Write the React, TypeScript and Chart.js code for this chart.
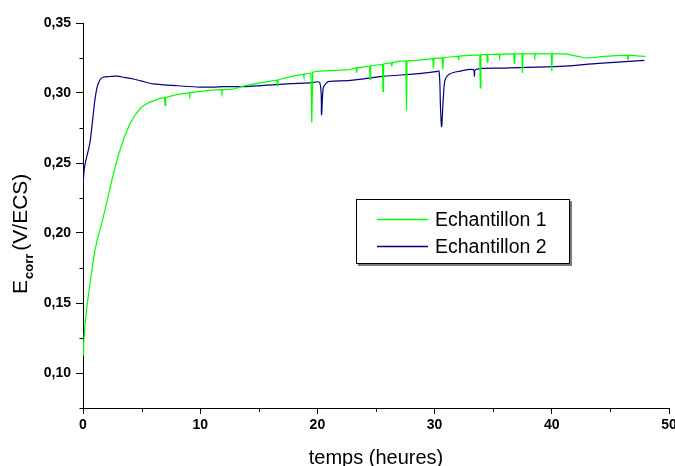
import React, { useEffect, useRef } from "react";
import { Chart, registerables } from "chart.js";

Chart.register(...registerables);

// Echantillon 1 (green)
const e1Time = [
  0, 0.05, 0.15, 0.3, 0.5, 0.75, 1.0, 1.3, 1.6, 2.0, 2.5, 3.0, 3.5, 4.0, 4.5, 5.0, 5.7, 6.5,
  6.95, 7.0, 7.05, 8.0, 9.05, 9.1, 9.15, 10, 11, 11.8, 11.85, 11.9, 12.8, 13.5, 14.2, 15, 16,
  16.55, 16.6, 16.65, 17.1, 18, 18.8, 18.85, 18.9, 19.45, 19.52, 19.6, 19.9, 21, 22, 22.8,
  23.3, 23.35, 23.4, 24.2, 24.45, 24.5, 24.55, 25.55, 25.6, 25.65, 26.3, 26.35, 26.4, 27,
  27.55, 27.6, 27.65, 28.4, 29.85, 29.9, 29.95, 30.65, 30.7, 30.75, 31.3, 32.0, 32.05, 32.1,
  32.7, 33.85, 33.9, 33.95, 34.45, 34.5, 34.55, 35.5, 35.55, 35.6, 36.75, 36.8, 36.85, 37.45,
  37.5, 37.55, 38.5, 38.55, 38.6, 39.95, 40.0, 40.05, 41.2, 42.0, 42.9, 43.5, 44.2, 45.5,
  46.45, 46.5, 46.55, 47.3, 48.0,
];
const e1Value = [
  0.113, 0.121, 0.132, 0.145, 0.158, 0.173, 0.187, 0.198, 0.207, 0.221, 0.239, 0.255, 0.268,
  0.278, 0.285, 0.29, 0.2935, 0.296,
  0.2968, 0.291, 0.2968, 0.2988, 0.3002, 0.2985, 0.3003, 0.3012, 0.302, 0.3024, 0.3005, 0.3024,
  0.3027, 0.3045, 0.3058, 0.307, 0.3085,
  0.3092, 0.3047, 0.3093, 0.3105, 0.3122, 0.3135, 0.3115, 0.3136, 0.3142, 0.279, 0.3148,
  0.3155, 0.316, 0.3163, 0.3167,
  0.318, 0.3145, 0.318, 0.319, 0.3192, 0.3095, 0.3195, 0.3205, 0.3012, 0.3207, 0.3215, 0.319,
  0.3217, 0.3228,
  0.3228, 0.2874, 0.323, 0.3233, 0.3245, 0.3176, 0.3247, 0.325, 0.3167, 0.3252, 0.3257, 0.3262,
  0.3235, 0.3263,
  0.3267, 0.3272, 0.3036, 0.3272, 0.3275, 0.322, 0.3275, 0.3278, 0.326, 0.3278, 0.3279, 0.3214,
  0.3279, 0.328,
  0.3143, 0.328, 0.328, 0.3262, 0.328, 0.328, 0.3155, 0.328, 0.328, 0.3265, 0.325, 0.3252,
  0.326, 0.3267,
  0.327, 0.3235, 0.327, 0.3265, 0.3262,
];

// Echantillon 2 (navy)
const e2Time = [
  0, 0.1, 0.25, 0.45, 0.6, 0.8, 1.0, 1.2, 1.45, 1.75, 2.3, 2.9, 3.5, 4.3, 5.0, 6.0, 7.7, 9.7,
  11, 12, 13, 14.2, 17.1, 19.35, 20.2, 20.35, 20.5, 20.75, 21, 22.8, 25.6, 28.4, 30.1, 30.38,
  30.5, 30.6, 30.75, 30.9, 31.27, 32.1, 33.3, 33.4, 33.5, 36, 40.7, 44, 47.9,
];
const e2Value = [
  0.233, 0.245, 0.252, 0.259, 0.265, 0.279, 0.294, 0.304, 0.3095, 0.3114, 0.3118, 0.312, 0.3112,
  0.31, 0.3085, 0.3065, 0.3054, 0.3043,
  0.3042, 0.3045, 0.3045, 0.3047, 0.3064, 0.3072, 0.3074, 0.2845, 0.3036, 0.307, 0.3083, 0.309,
  0.3119, 0.3136, 0.3152, 0.3155,
  0.2905, 0.276, 0.2976, 0.3095, 0.3136, 0.3155, 0.3167, 0.3119, 0.3168, 0.3178, 0.319, 0.3212,
  0.3233,
];

const xTicks = [0, 10, 20, 30, 40, 50];
const xMinorTicks = [5, 15, 25, 35, 45];
const yTicks = [0.1, 0.15, 0.2, 0.25, 0.3, 0.35];
const yMinorTicks = [0.075, 0.125, 0.175, 0.225, 0.275, 0.325];
const seriesNames = ["Echantillon 1", "Echantillon 2"];
const xTitle = "temps (heures)";
const yTitleMain = "E";
const yTitleSub = "corr";
const yTitleRest = "(V/ECS)";

const FONT = '"Liberation Sans", Arial, sans-serif';
const GREEN = "#00ff00";
const NAVY = "#000080";

const overlayPlugin = {
  id: "overlay",
  afterDraw(chart: any) {
    const ctx = chart.ctx;
    const xs = chart.scales.x;
    const ys = chart.scales.y;
    const area = chart.chartArea;
    ctx.save();
    ctx.strokeStyle = "#000";
    ctx.lineWidth = 1;
    // minor ticks
    ctx.beginPath();
    for (const v of xMinorTicks) {
      const px = Math.round(xs.getPixelForValue(v)) + 0.5;
      ctx.moveTo(px, Math.round(area.bottom) + 0.5);
      ctx.lineTo(px, Math.round(area.bottom) + 4);
    }
    for (const v of yMinorTicks) {
      const py = Math.round(ys.getPixelForValue(v)) + 0.5;
      ctx.moveTo(Math.round(area.left) + 0.5, py);
      ctx.lineTo(Math.round(area.left) - 3.5, py);
    }
    ctx.stroke();

    // x title
    ctx.fillStyle = "#000";
    ctx.font = `20px ${FONT}`;
    ctx.textAlign = "center";
    ctx.textBaseline = "alphabetic";
    ctx.fillText(xTitle, (area.left + area.right) / 2, 464);

    // y title (rotated, with subscript)
    ctx.save();
    ctx.translate(27, 294);
    ctx.rotate(-Math.PI / 2);
    ctx.textAlign = "left";
    ctx.font = `21px ${FONT}`;
    let x = 0;
    ctx.fillText(yTitleMain, x, 0);
    x += ctx.measureText(yTitleMain).width + 1;
    ctx.font = `bold 13px ${FONT}`;
    ctx.fillText(yTitleSub, x, 6);
    x += ctx.measureText(yTitleSub).width + 3;
    ctx.font = `21px ${FONT}`;
    ctx.fillText(yTitleRest, x, 0);
    ctx.restore();

    // legend box
    const bx = 356, by = 199, bw = 214, bh = 65;
    ctx.fillStyle = "#7a7a7a";
    ctx.fillRect(bx + 2, by + 2, bw, bh);
    ctx.fillStyle = "#fff";
    ctx.fillRect(bx, by, bw, bh);
    ctx.strokeStyle = "#000";
    ctx.strokeRect(bx + 0.5, by + 0.5, bw - 1, bh - 1);
    const colors = [GREEN, NAVY];
    const lineYs = [219, 246];
    const textYs = [225.5, 252.5];
    ctx.font = `19.5px ${FONT}`;
    ctx.textAlign = "left";
    for (let i = 0; i < 2; i++) {
      ctx.strokeStyle = colors[i];
      ctx.lineWidth = 1.5;
      ctx.beginPath();
      ctx.moveTo(377, lineYs[i] + 0.5);
      ctx.lineTo(428, lineYs[i] + 0.5);
      ctx.stroke();
      ctx.fillStyle = "#000";
      ctx.fillText(seriesNames[i], 435, textYs[i]);
    }
    ctx.restore();
  },
};

export default function App() {
  const ref = useRef<HTMLCanvasElement>(null);
  useEffect(() => {
    document.body.style.margin = "0";
    const canvas = ref.current!;
    const d1 = e1Time.map((t, i) => ({ x: t, y: e1Value[i] }));
    const d2 = e2Time.map((t, i) => ({ x: t, y: e2Value[i] }));
    const chart = new Chart(canvas, {
      type: "line",
      data: {
        datasets: [
          { label: seriesNames[0], data: d1, borderColor: GREEN, borderWidth: 1.2, pointRadius: 0, tension: 0, fill: false },
          { label: seriesNames[1], data: d2, borderColor: NAVY, borderWidth: 1.2, pointRadius: 0, tension: 0.3, fill: false },
        ],
      },
      options: {
        responsive: false,
        animation: false,
        devicePixelRatio: 1,
        layout: { padding: { top: 23, right: 6, left: 0, bottom: 0 } },
        plugins: { legend: { display: false }, tooltip: { enabled: false } },
        scales: {
          x: {
            type: "linear",
            min: 0,
            max: 50,
            afterBuildTicks: (s: any) => { s.ticks = xTicks.map((v) => ({ value: v })); },
            afterFit: (s: any) => { s.height = 58; s.paddingLeft = 0; s.paddingRight = 0; },
            ticks: {
              font: { family: FONT, size: 14, weight: "bold" },
              color: "#000",
              padding: 3,
              maxRotation: 0,
              autoSkip: false,
              callback: (v: any) => String(v),
            },
            grid: { drawOnChartArea: false, drawTicks: true, tickLength: 6, tickColor: "#000", color: "#000", tickWidth: 1 },
            border: { display: true, color: "#000", width: 1 },
          },
          y: {
            type: "linear",
            min: 0.075,
            max: 0.35,
            afterBuildTicks: (s: any) => { s.ticks = yTicks.map((v) => ({ value: v })); },
            afterFit: (s: any) => { s.width = 83; s.paddingTop = 0; s.paddingBottom = 0; },
            ticks: {
              font: { family: FONT, size: 14, weight: "bold" },
              color: "#000",
              padding: 5,
              autoSkip: false,
              callback: (v: any) => Number(v).toFixed(2).replace(".", ","),
            },
            grid: { drawOnChartArea: false, drawTicks: true, tickLength: 7, tickColor: "#000", color: "#000", tickWidth: 1 },
            border: { display: true, color: "#000", width: 1 },
          },
        },
      },
      plugins: [overlayPlugin],
    });
    return () => chart.destroy();
  }, []);
  return (
    <div style={{ position: "absolute", left: 0, top: 0, width: 675, height: 466, background: "#fff" }}>
      <canvas ref={ref} width={675} height={466} style={{ display: "block" }} />
    </div>
  );
}
